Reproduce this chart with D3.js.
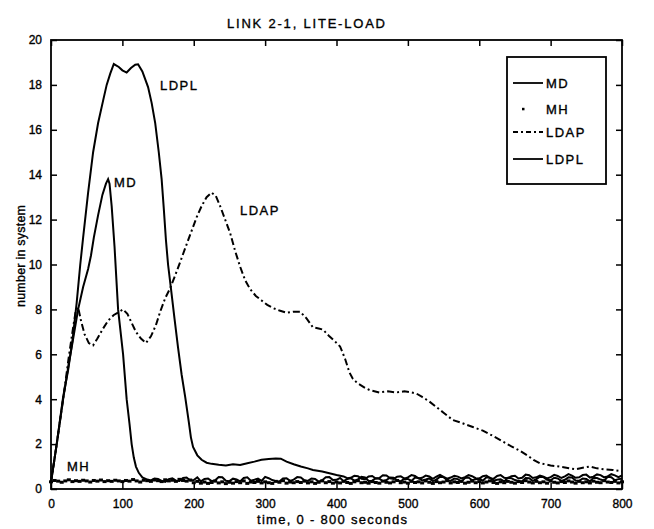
<!DOCTYPE html>
<html>
<head>
<meta charset="utf-8">
<script src="https://cdn.jsdelivr.net/npm/d3@7"></script>
<style>
  body { margin: 0; background: #fff; }
  text { font-family: "Liberation Sans", Arial, sans-serif; fill: #000; stroke: #000; stroke-width: 0.35px; }
</style>
</head>
<body>
<div id="chart"></div>
<script>
// ---- data ----
const xTicks = [0, 100, 200, 300, 400, 500, 600, 700, 800];
const yTicks = [0, 2, 4, 6, 8, 10, 12, 14, 16, 18, 20];

// MD, solid line: [time, number]
const mdData = [
  [0,0.3],[8,2.0],[17,4.0],[25,5.6],[30,6.5],[38,8.0],[45,9.0],[52,9.8],[56,10.4],[60,11.2],
  [66,12.2],[72,13.1],[77,13.6],[80,13.8],[82,13.6],[85,12.6],[89,10.8],[94,8.0],[101,6.0],
  [106,4.0],[110,2.9],[113,2.0],[116,1.4],[119,1.0],[123,0.72],[128,0.52],[135,0.42],
  [140,0.38],[145,0.47],[150,0.45],[155,0.36],[160,0.32],[165,0.44],[170,0.48],[175,0.37],
  [180,0.36],[185,0.49],[190,0.51],[195,0.38],[200,0.40],[205,0.52],[210,0.34],[215,0.45],
  [220,0.47],[225,0.35],[230,0.39],[235,0.53],[240,0.52],[245,0.37],[250,0.35],[255,0.46],
  [260,0.43],[265,0.34],[270,0.49],[275,0.52],[280,0.37],[285,0.41],[290,0.46],[295,0.36],
  [300,0.54],[305,0.48],[310,0.40],[315,0.35],[320,0.33],[325,0.47],[330,0.48],[335,0.36],
  [340,0.42],[345,0.53],[350,0.51],[355,0.39],[360,0.36],[365,0.47],[370,0.45],[375,0.33],
  [380,0.39],[385,0.52],[390,0.53],[395,0.40],[400,0.41],[405,0.49],[410,0.35],[415,0.44],
  [420,0.48],[425,0.37],[430,0.43],[435,0.54],[440,0.52],[445,0.36],[450,0.37],[455,0.48],
  [460,0.46],[465,0.35],[470,0.40],[475,0.51],[480,0.50],[485,0.38],[490,0.34],[495,0.46],
  [500,0.45],[505,0.36],[510,0.51],[515,0.49],[520,0.38],[525,0.42],[530,0.47],[535,0.35],
  [540,0.42],[545,0.55],[550,0.53],[555,0.40],[560,0.36],[565,0.47],[570,0.44],[575,0.33],
  [580,0.49],[585,0.51],[590,0.39],[595,0.43],[600,0.46],[605,0.37],[610,0.52],[615,0.50],
  [620,0.37],[625,0.41],[630,0.43],[635,0.34],[640,0.50],[645,0.48],[650,0.40],[655,0.36],
  [660,0.35],[665,0.49],[670,0.48],[675,0.36],[680,0.44],[685,0.55],[690,0.53],[695,0.41],
  [700,0.39],[705,0.50],[710,0.47],[715,0.36],[720,0.41],[725,0.52],[730,0.51],[735,0.38],
  [740,0.36],[745,0.47],[750,0.45],[755,0.34],[760,0.50],[765,0.49],[770,0.42],[775,0.37],
  [780,0.54],[785,0.52],[790,0.39],[795,0.44],[800,0.46]
];

// MH, dots every 5 seconds from 0 to 800
const mhStep = 5;
const mhValues = [
  0.32,0.38,0.35,0.30,0.36,0.41,0.33,0.37,0.34,0.39,
  0.36,0.31,0.38,0.35,0.40,0.33,0.37,0.34,0.39,0.36,
  0.33,0.38,0.35,0.42,0.36,0.31,0.39,0.37,0.34,0.40,
  0.37,0.33,0.41,0.36,0.39,0.34,0.43,0.38,0.35,0.40,
  0.28,0.34,0.26,0.31,0.25,0.29,0.35,0.27,0.32,0.24,
  0.30,0.26,0.33,0.28,0.36,0.25,0.31,0.29,0.34,0.27,
  0.32,0.28,0.25,0.34,0.30,0.37,0.26,0.31,0.28,0.33,
  0.29,0.35,0.27,0.32,0.25,0.30,0.36,0.28,0.33,0.26,
  0.31,0.27,0.34,0.29,0.25,0.32,0.37,0.28,0.30,0.26,
  0.33,0.29,0.26,0.35,0.30,0.27,0.32,0.38,0.28,0.31,
  0.26,0.34,0.29,0.32,0.27,0.36,0.30,0.25,0.33,0.28,
  0.31,0.37,0.27,0.32,0.29,0.34,0.26,0.30,0.35,0.28,
  0.33,0.27,0.31,0.36,0.29,0.25,0.32,0.28,0.34,0.30,
  0.26,0.33,0.29,0.37,0.31,0.27,0.34,0.28,0.32,0.26,
  0.35,0.30,0.27,0.33,0.29,0.36,0.31,0.26,0.34,0.28,
  0.32,0.27,0.35,0.30,0.28,0.37,0.31,0.29,0.34,0.27,
  0.32
];

// LDAP, dash-dot line
const ldapData = [
  [0,0.3],[8,2.0],[17,4.0],[25,5.9],[31,7.2],[35,8.0],[38,8.1],[42,7.5],[47,6.9],[53,6.5],
  [59,6.4],[65,6.7],[72,7.1],[80,7.5],[88,7.75],[96,7.9],[101,8.0],[107,7.8],[113,7.4],
  [119,7.0],[126,6.7],[133,6.5],[140,6.8],[147,7.3],[153,7.9],[160,8.5],[167,8.95],[175,9.6],
  [182,10.2],[190,10.9],[197,11.5],[204,12.1],[211,12.6],[218,13.0],[225,13.2],[231,13.05],
  [237,12.6],[244,12.0],[251,11.4],[258,10.6],[265,9.9],[272,9.3],[279,8.9],[287,8.6],
  [295,8.4],[303,8.2],[311,8.06],[320,7.95],[330,7.85],[340,7.9],[349,7.9],[358,7.6],
  [367,7.2],[375,7.15],[381,7.1],[390,6.8],[397,6.6],[405,6.35],[412,5.8],[418,5.2],
  [423,4.9],[430,4.7],[440,4.5],[447,4.4],[460,4.3],[472,4.35],[484,4.3],[495,4.35],
  [505,4.3],[512,4.25],[520,4.1],[530,3.9],[540,3.65],[550,3.4],[563,3.07],[575,2.95],
  [583,2.85],[591,2.76],[605,2.6],[620,2.35],[634,2.1],[645,1.9],[657,1.7],[667,1.5],
  [676,1.3],[685,1.15],[700,1.05],[712,1.0],[722,0.95],[735,0.88],[745,0.95],[755,1.0],
  [765,0.92],[775,0.88],[787,0.85],[797,0.8],[800,0.78]
];

// LDPL, solid line
const ldplData = [
  [0,0.3],[8,2.0],[17,4.1],[24,5.3],[30,6.6],[36,8.3],[41,10.0],[45,11.2],[52,13.2],[59,15.0],
  [66,16.3],[73,17.3],[78,18.0],[83,18.5],[88,18.93],[95,18.8],[100,18.65],[106,18.55],
  [112,18.75],[118,18.9],[122,18.92],[128,18.6],[136,17.9],[141,17.2],[146,16.3],[151,15.0],
  [155,13.8],[158,12.5],[161,11.1],[164,10.0],[168,8.95],[173,7.6],[178,6.3],[183,5.1],
  [188,4.1],[193,3.0],[196,2.3],[199,1.87],[205,1.5],[211,1.3],[218,1.17],[225,1.12],
  [235,1.08],[245,1.05],[255,1.10],[265,1.07],[275,1.15],[285,1.22],[295,1.30],[305,1.34],
  [315,1.36],[322,1.35],[330,1.22],[340,1.10],[350,1.00],[360,0.92],[367,0.85],[380,0.78],
  [390,0.70],[400,0.62],[410,0.56],[415,0.48],[420,0.50],[425,0.59],[430,0.57],[435,0.46],
  [440,0.44],[445,0.56],[450,0.58],[455,0.47],[460,0.49],[465,0.61],[470,0.60],[475,0.48],
  [480,0.45],[485,0.55],[490,0.57],[495,0.46],[500,0.52],[505,0.62],[510,0.58],[515,0.47],
  [520,0.50],[525,0.60],[530,0.56],[535,0.45],[540,0.55],[545,0.63],[550,0.54],[555,0.46],
  [560,0.51],[565,0.59],[570,0.55],[575,0.47],[580,0.53],[585,0.62],[590,0.57],[595,0.48],
  [600,0.46],[605,0.57],[610,0.60],[615,0.49],[620,0.45],[625,0.58],[630,0.62],[635,0.50],
  [640,0.48],[645,0.57],[650,0.59],[655,0.47],[660,0.50],[665,0.64],[670,0.61],[675,0.49],
  [680,0.52],[685,0.60],[690,0.55],[695,0.47],[700,0.53],[705,0.63],[710,0.58],[715,0.49],
  [720,0.56],[725,0.66],[730,0.60],[735,0.50],[740,0.52],[745,0.62],[750,0.64],[755,0.51],
  [760,0.55],[765,0.65],[770,0.62],[775,0.52],[780,0.56],[785,0.66],[790,0.61],[795,0.53],
  [800,0.60]
];

const legendNames = ["MD", "MH", "LDAP", "LDPL"];

// ---- layout ----
const width = 654, height = 529;
const plot = {left: 51, right: 622, top: 40, bottom: 489};

const svg = d3.select('#chart').append('svg')
  .attr('width', width)
  .attr('height', height);

const x = d3.scaleLinear().domain([0, 800]).range([plot.left, plot.right]);
const y = d3.scaleLinear().domain([0, 20]).range([plot.bottom, plot.top]);

// ticks, inward on all four sides (matlab box style)
function styleAxis(g){
  g.select('.domain').remove();
  g.selectAll('.tick line').attr('stroke', '#000').attr('stroke-width', 1.5);
  g.selectAll('.tick text').style('font-size', '12px').style('font-family', '"Liberation Sans", Arial, sans-serif');
}

svg.append('g')
  .attr('transform', `translate(0,${plot.bottom})`)
  .call(d3.axisBottom(x).tickValues(xTicks).tickSizeInner(-6).tickSizeOuter(0).tickPadding(10))
  .call(styleAxis);

svg.append('g')
  .attr('transform', `translate(0,${plot.top})`)
  .call(d3.axisTop(x).tickValues(xTicks).tickSizeInner(-6).tickSizeOuter(0).tickFormat(''))
  .call(styleAxis);

svg.append('g')
  .attr('transform', `translate(${plot.left},0)`)
  .call(d3.axisLeft(y).tickValues(yTicks).tickSizeInner(-6).tickSizeOuter(0).tickPadding(9))
  .call(styleAxis);

svg.append('g')
  .attr('transform', `translate(${plot.right},0)`)
  .call(d3.axisRight(y).tickValues(yTicks).tickSizeInner(-6).tickSizeOuter(0).tickFormat(''))
  .call(styleAxis);

// axes box
svg.append('rect')
  .attr('x', plot.left).attr('y', plot.top)
  .attr('width', plot.right - plot.left).attr('height', plot.bottom - plot.top)
  .attr('fill', 'none').attr('stroke', '#000').attr('stroke-width', 1.8);

// ---- series ----
const line = d3.line().x(d => x(d[0])).y(d => y(d[1]));
const chart = svg.append('g');

// MH as dense dots
chart.selectAll('.mh')
  .data(mhValues)
  .enter().append('rect')
    .attr('class', 'mh')
    .attr('x', (d, i) => x(i * mhStep) - 2)
    .attr('y', d => y(d) - 1.5)
    .attr('width', 4)
    .attr('height', 3)
    .attr('fill', '#000');

chart.append('path').datum(mdData)
  .attr('d', line).attr('fill', 'none').attr('stroke', '#000').attr('stroke-width', 2);

chart.append('path').datum(ldplData)
  .attr('d', line).attr('fill', 'none').attr('stroke', '#000').attr('stroke-width', 2);

chart.append('path').datum(ldapData)
  .attr('d', line).attr('fill', 'none').attr('stroke', '#000').attr('stroke-width', 2)
  .attr('stroke-dasharray', '7,3,2,3');

// in-plot labels
const labelStyle = s => s.style('font-size', '13px').style('letter-spacing', '1.5px');
svg.append('text').attr('x', 160).attr('y', 90).text('LDPL').call(labelStyle);
svg.append('text').attr('x', 114).attr('y', 187).text('MD').call(labelStyle);
svg.append('text').attr('x', 240).attr('y', 215).text('LDAP').call(labelStyle);
svg.append('text').attr('x', 67).attr('y', 471).text('MH').call(labelStyle);

// ---- legend ----
const legend = svg.append('g');
legend.append('rect')
  .attr('x', 507).attr('y', 57).attr('width', 99).attr('height', 127)
  .attr('fill', '#fff').attr('stroke', '#000').attr('stroke-width', 1.8);

const legendY = [83, 109, 132, 159];
legendNames.forEach((name, i) => {
  const ly = legendY[i];
  if (name === 'MH') {
    legend.append('rect').attr('x', 522).attr('y', ly - 1.2).attr('width', 2.5).attr('height', 2.5).attr('fill', '#000');
  } else {
    legend.append('line')
      .attr('x1', 513).attr('x2', 543).attr('y1', ly).attr('y2', ly)
      .attr('stroke', '#000').attr('stroke-width', 1.8)
      .attr('stroke-dasharray', name === 'LDAP' ? '5,3,2,3' : null);
  }
  legend.append('text')
    .attr('x', 546).attr('y', ly + 5)
    .text(name)
    .call(labelStyle);
});

// ---- titles ----
svg.append('text')
  .attr('x', 227).attr('y', 28)
  .attr('textLength', 158).attr('lengthAdjust', 'spacing')
  .style('font-size', '13px')
  .text('LINK 2-1, LITE-LOAD');

svg.append('text')
  .attr('x', 257).attr('y', 524)
  .attr('textLength', 150).attr('lengthAdjust', 'spacing')
  .style('font-size', '13px')
  .text('time, 0 - 800 seconds');

svg.append('text')
  .attr('transform', 'translate(25,307) rotate(-90)')
  .attr('textLength', 102).attr('lengthAdjust', 'spacing')
  .style('font-size', '12.5px')
  .text('number in system');
</script>
</body>
</html>
